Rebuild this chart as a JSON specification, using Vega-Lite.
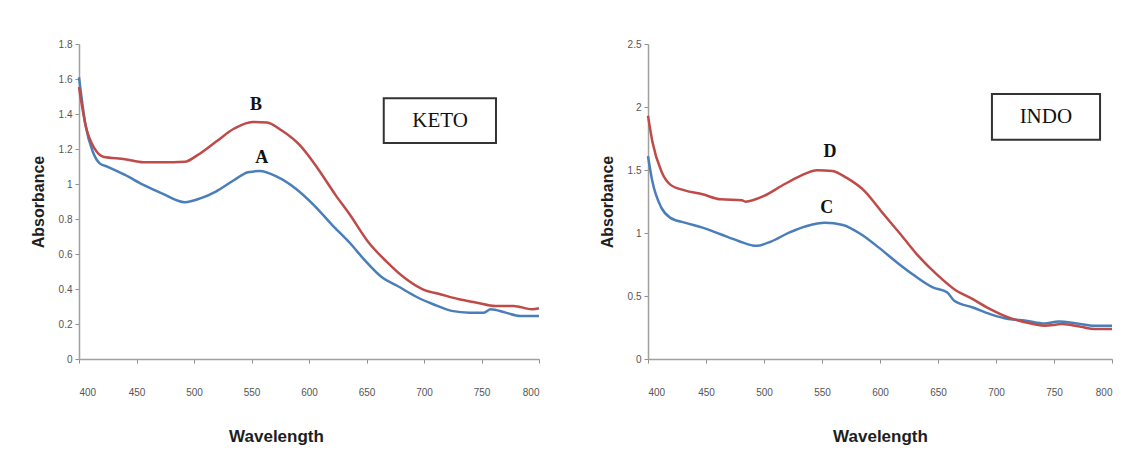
{
  "$schema": "https://vega.github.io/schema/vega-lite/v6.json",
  "padding": {"left": 30, "top": 39, "right": 10, "bottom": 10},
  "spacing": 55,
  "background": "white",
  "config": {
    "view": {"stroke": null},
    "font": "Liberation Sans",
    "axis": {
      "grid": false,
      "domainColor": "#a0a0a0",
      "domainWidth": 1.5,
      "tickColor": "#909090",
      "tickSize": 4,
      "labelColor": "#555555",
      "labelFontSize": 10,
      "labelFont": "Liberation Sans",
      "labelOverlap": false,
      "titleFont": "Liberation Sans",
      "titleFontWeight": "bold",
      "titleColor": "#1e1e1e"
    },
    "axisX": {"labelPadding": 24, "titlePadding": 31, "titleFontSize": 17, "tickCount": 12},
    "axisY": {"labelPadding": 3, "titlePadding": 12, "titleFontSize": 16, "tickCount": 12}
  },
  "datasets": {
    "keto": [
      {"wl": 400, "abs": 1.61, "s": "A"},
      {"wl": 405.7, "abs": 1.336, "s": "A"},
      {"wl": 412, "abs": 1.184, "s": "A"},
      {"wl": 418, "abs": 1.118, "s": "A"},
      {"wl": 424.6, "abs": 1.099, "s": "A"},
      {"wl": 440, "abs": 1.052, "s": "A"},
      {"wl": 456, "abs": 0.995, "s": "A"},
      {"wl": 472, "abs": 0.947, "s": "A"},
      {"wl": 492, "abs": 0.896, "s": "A"},
      {"wl": 506, "abs": 0.919, "s": "A"},
      {"wl": 519, "abs": 0.957, "s": "A"},
      {"wl": 535, "abs": 1.023, "s": "A"},
      {"wl": 547, "abs": 1.067, "s": "A"},
      {"wl": 557, "abs": 1.074, "s": "A"},
      {"wl": 572, "abs": 1.042, "s": "A"},
      {"wl": 588, "abs": 0.976, "s": "A"},
      {"wl": 604, "abs": 0.881, "s": "A"},
      {"wl": 620, "abs": 0.767, "s": "A"},
      {"wl": 635.6, "abs": 0.663, "s": "A"},
      {"wl": 648, "abs": 0.568, "s": "A"},
      {"wl": 664, "abs": 0.464, "s": "A"},
      {"wl": 677, "abs": 0.417, "s": "A"},
      {"wl": 695, "abs": 0.35, "s": "A"},
      {"wl": 708, "abs": 0.313, "s": "A"},
      {"wl": 724, "abs": 0.275, "s": "A"},
      {"wl": 739.5, "abs": 0.265, "s": "A"},
      {"wl": 752, "abs": 0.265, "s": "A"},
      {"wl": 758, "abs": 0.284, "s": "A"},
      {"wl": 771, "abs": 0.265, "s": "A"},
      {"wl": 783.6, "abs": 0.246, "s": "A"},
      {"wl": 800, "abs": 0.246, "s": "A"},
      {"wl": 400, "abs": 1.554, "s": "B"},
      {"wl": 405.7, "abs": 1.336, "s": "B"},
      {"wl": 413.5, "abs": 1.203, "s": "B"},
      {"wl": 421, "abs": 1.156, "s": "B"},
      {"wl": 440, "abs": 1.142, "s": "B"},
      {"wl": 456, "abs": 1.124, "s": "B"},
      {"wl": 472, "abs": 1.124, "s": "B"},
      {"wl": 492, "abs": 1.127, "s": "B"},
      {"wl": 503, "abs": 1.165, "s": "B"},
      {"wl": 519, "abs": 1.241, "s": "B"},
      {"wl": 535, "abs": 1.317, "s": "B"},
      {"wl": 550.8, "abs": 1.355, "s": "B"},
      {"wl": 563.5, "abs": 1.351, "s": "B"},
      {"wl": 576, "abs": 1.307, "s": "B"},
      {"wl": 592, "abs": 1.222, "s": "B"},
      {"wl": 607.6, "abs": 1.089, "s": "B"},
      {"wl": 623, "abs": 0.938, "s": "B"},
      {"wl": 635.6, "abs": 0.824, "s": "B"},
      {"wl": 651, "abs": 0.673, "s": "B"},
      {"wl": 667, "abs": 0.559, "s": "B"},
      {"wl": 683, "abs": 0.464, "s": "B"},
      {"wl": 699, "abs": 0.398, "s": "B"},
      {"wl": 714.8, "abs": 0.369, "s": "B"},
      {"wl": 730.6, "abs": 0.341, "s": "B"},
      {"wl": 746, "abs": 0.322, "s": "B"},
      {"wl": 762, "abs": 0.303, "s": "B"},
      {"wl": 778, "abs": 0.303, "s": "B"},
      {"wl": 794, "abs": 0.284, "s": "B"},
      {"wl": 800, "abs": 0.29, "s": "B"}
    ],
    "indo": [
      {"wl": 400, "abs": 1.61, "s": "C"},
      {"wl": 403.7, "abs": 1.412, "s": "C"},
      {"wl": 411.5, "abs": 1.201, "s": "C"},
      {"wl": 419, "abs": 1.122, "s": "C"},
      {"wl": 431.6, "abs": 1.082, "s": "C"},
      {"wl": 447, "abs": 1.043, "s": "C"},
      {"wl": 462.6, "abs": 0.99, "s": "C"},
      {"wl": 478, "abs": 0.937, "s": "C"},
      {"wl": 493.6, "abs": 0.898, "s": "C"},
      {"wl": 506, "abs": 0.932, "s": "C"},
      {"wl": 521.6, "abs": 1.003, "s": "C"},
      {"wl": 537, "abs": 1.056, "s": "C"},
      {"wl": 552.6, "abs": 1.082, "s": "C"},
      {"wl": 568, "abs": 1.064, "s": "C"},
      {"wl": 583.6, "abs": 0.99, "s": "C"},
      {"wl": 599, "abs": 0.884, "s": "C"},
      {"wl": 614.6, "abs": 0.766, "s": "C"},
      {"wl": 630, "abs": 0.66, "s": "C"},
      {"wl": 645.6, "abs": 0.568, "s": "C"},
      {"wl": 658, "abs": 0.528, "s": "C"},
      {"wl": 664, "abs": 0.462, "s": "C"},
      {"wl": 680, "abs": 0.409, "s": "C"},
      {"wl": 695, "abs": 0.356, "s": "C"},
      {"wl": 710.7, "abs": 0.317, "s": "C"},
      {"wl": 726, "abs": 0.304, "s": "C"},
      {"wl": 741.7, "abs": 0.282, "s": "C"},
      {"wl": 754, "abs": 0.297, "s": "C"},
      {"wl": 770, "abs": 0.282, "s": "C"},
      {"wl": 785, "abs": 0.264, "s": "C"},
      {"wl": 800, "abs": 0.264, "s": "C"},
      {"wl": 400, "abs": 1.93, "s": "D"},
      {"wl": 403.7, "abs": 1.729, "s": "D"},
      {"wl": 411.5, "abs": 1.49, "s": "D"},
      {"wl": 419, "abs": 1.386, "s": "D"},
      {"wl": 431.6, "abs": 1.338, "s": "D"},
      {"wl": 447, "abs": 1.307, "s": "D"},
      {"wl": 462.6, "abs": 1.267, "s": "D"},
      {"wl": 481, "abs": 1.259, "s": "D"},
      {"wl": 484, "abs": 1.249, "s": "D"},
      {"wl": 500, "abs": 1.294, "s": "D"},
      {"wl": 515, "abs": 1.373, "s": "D"},
      {"wl": 531, "abs": 1.452, "s": "D"},
      {"wl": 546, "abs": 1.499, "s": "D"},
      {"wl": 559, "abs": 1.492, "s": "D"},
      {"wl": 571, "abs": 1.439, "s": "D"},
      {"wl": 586.7, "abs": 1.333, "s": "D"},
      {"wl": 602, "abs": 1.162, "s": "D"},
      {"wl": 617.7, "abs": 0.99, "s": "D"},
      {"wl": 633, "abs": 0.818, "s": "D"},
      {"wl": 648.7, "abs": 0.673, "s": "D"},
      {"wl": 664, "abs": 0.554, "s": "D"},
      {"wl": 680, "abs": 0.475, "s": "D"},
      {"wl": 695, "abs": 0.396, "s": "D"},
      {"wl": 710.7, "abs": 0.33, "s": "D"},
      {"wl": 726, "abs": 0.29, "s": "D"},
      {"wl": 741.7, "abs": 0.264, "s": "D"},
      {"wl": 757, "abs": 0.277, "s": "D"},
      {"wl": 773, "abs": 0.256, "s": "D"},
      {"wl": 785, "abs": 0.238, "s": "D"},
      {"wl": 800, "abs": 0.238, "s": "D"}
    ],
    "ketoLabels": [
      {"wl": 554, "abs": 1.45, "t": "B"},
      {"wl": 559, "abs": 1.15, "t": "A"}
    ],
    "indoLabels": [
      {"wl": 557, "abs": 1.646, "t": "D"},
      {"wl": 554, "abs": 1.195, "t": "C"}
    ],
    "ketoBox": [{"x1": 665, "x2": 762.6, "y1": 1.234, "y2": 1.49, "xc": 714, "yc": 1.362, "t": "KETO"}],
    "indoBox": [{"x1": 696.5, "x2": 789.7, "y1": 1.74, "y2": 2.104, "xc": 743, "yc": 1.922, "t": "INDO"}]
  },
  "hconcat": [
    {
      "width": 460,
      "height": 315,
      "layer": [
        {
          "data": {"name": "keto"},
          "mark": {"type": "line", "strokeWidth": 2.5, "interpolate": "monotone"},
          "encoding": {
            "x": {"field": "wl", "type": "quantitative", "scale": {"domain": [400, 800], "nice": false},
                  "axis": {"title": "Wavelength", "values": [400, 450, 500, 550, 600, 650, 700, 750, 800], "titleX": 197}},
            "y": {"field": "abs", "type": "quantitative", "scale": {"domain": [0, 1.8], "nice": false},
                  "axis": {"title": "Absorbance", "values": [0, 0.2, 0.4, 0.6, 0.8, 1, 1.2, 1.4, 1.6, 1.8], "format": "~g", "tickCount": 12}},
            "color": {"field": "s", "type": "nominal", "scale": {"domain": ["A", "B"], "range": ["#4a7ebb", "#be4b48"]}, "legend": null}
          }
        },
        {
          "data": {"name": "ketoLabels"},
          "mark": {"type": "text", "font": "Liberation Serif", "fontWeight": "bold", "fontSize": 18, "color": "#111111"},
          "encoding": {
            "x": {"field": "wl", "type": "quantitative"},
            "y": {"field": "abs", "type": "quantitative"},
            "text": {"field": "t"}
          }
        },
        {
          "data": {"name": "ketoBox"},
          "mark": {"type": "rect", "fill": "white", "stroke": "#333333", "strokeWidth": 2},
          "encoding": {
            "x": {"field": "x1", "type": "quantitative"},
            "x2": {"field": "x2"},
            "y": {"field": "y1", "type": "quantitative"},
            "y2": {"field": "y2"}
          }
        },
        {
          "data": {"name": "ketoBox"},
          "mark": {"type": "text", "font": "Liberation Serif", "fontSize": 21, "color": "#111111"},
          "encoding": {
            "x": {"field": "xc", "type": "quantitative"},
            "y": {"field": "yc", "type": "quantitative"},
            "text": {"field": "t"}
          }
        }
      ]
    },
    {
      "width": 464,
      "height": 315,
      "layer": [
        {
          "data": {"name": "indo"},
          "mark": {"type": "line", "strokeWidth": 2.5, "interpolate": "monotone"},
          "encoding": {
            "x": {"field": "wl", "type": "quantitative", "scale": {"domain": [400, 800], "nice": false},
                  "axis": {"title": "Wavelength", "values": [400, 450, 500, 550, 600, 650, 700, 750, 800]}},
            "y": {"field": "abs", "type": "quantitative", "scale": {"domain": [0, 2.5], "nice": false},
                  "axis": {"title": "Absorbance", "values": [0, 0.5, 1, 1.5, 2, 2.5], "format": "~g"}},
            "color": {"field": "s", "type": "nominal", "scale": {"domain": ["C", "D"], "range": ["#4a7ebb", "#be4b48"]}, "legend": null}
          }
        },
        {
          "data": {"name": "indoLabels"},
          "mark": {"type": "text", "font": "Liberation Serif", "fontWeight": "bold", "fontSize": 18, "color": "#111111"},
          "encoding": {
            "x": {"field": "wl", "type": "quantitative"},
            "y": {"field": "abs", "type": "quantitative"},
            "text": {"field": "t"}
          }
        },
        {
          "data": {"name": "indoBox"},
          "mark": {"type": "rect", "fill": "white", "stroke": "#333333", "strokeWidth": 2},
          "encoding": {
            "x": {"field": "x1", "type": "quantitative"},
            "x2": {"field": "x2"},
            "y": {"field": "y1", "type": "quantitative"},
            "y2": {"field": "y2"}
          }
        },
        {
          "data": {"name": "indoBox"},
          "mark": {"type": "text", "font": "Liberation Serif", "fontSize": 21, "color": "#111111"},
          "encoding": {
            "x": {"field": "xc", "type": "quantitative"},
            "y": {"field": "yc", "type": "quantitative"},
            "text": {"field": "t"}
          }
        }
      ],
      "resolve": {"scale": {"color": "independent"}}
    }
  ],
  "resolve": {"scale": {"color": "independent"}}
}
